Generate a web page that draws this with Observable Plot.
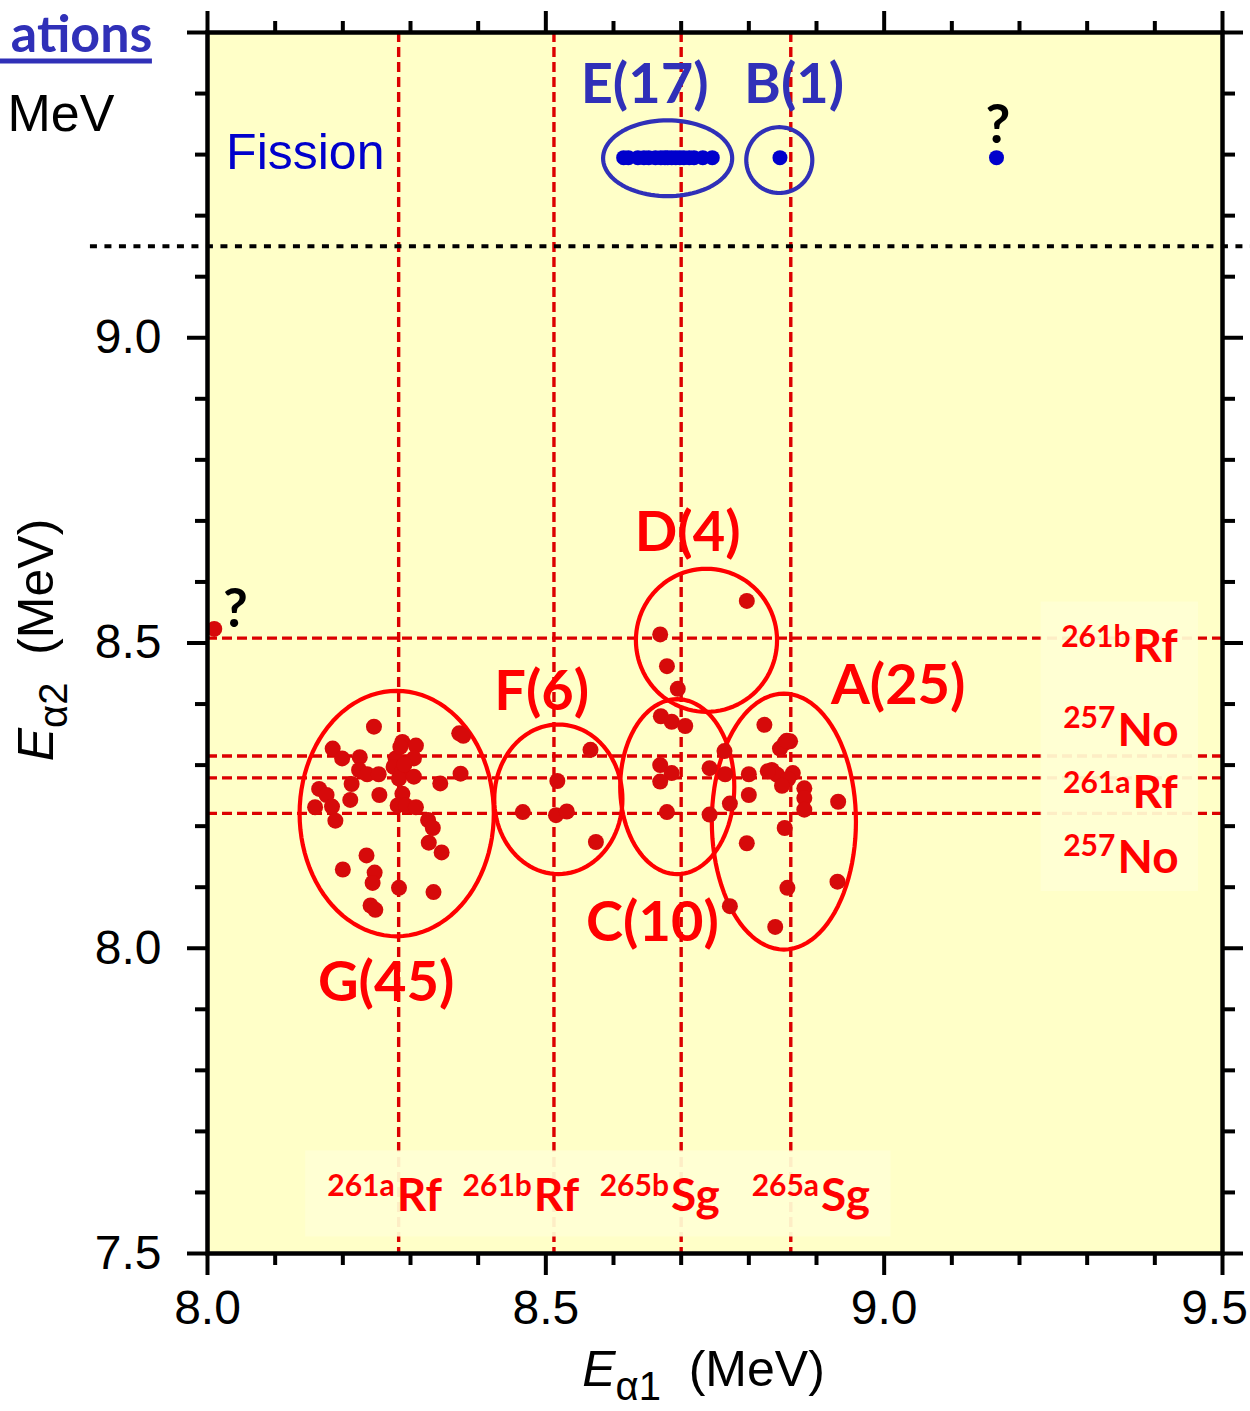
<!DOCTYPE html>
<html>
<head>
<meta charset="utf-8">
<script src="https://cdn.jsdelivr.net/npm/d3@7"></script>
<script src="https://cdn.jsdelivr.net/npm/@observablehq/plot@0.6"></script>
<style>
  body { margin: 0; background: #ffffff; }
  #chart svg { display: block; }
</style>
</head>
<body>
<div id="chart"></div>
<script>
// ---------------- DATA ----------------
// Alpha-alpha correlations: E_alpha1 (x) vs E_alpha2 (y), MeV
const groupG = [[8.246,8.363],[8.372,8.352],[8.378,8.348],[8.185,8.327],[8.199,8.311],[8.225,8.313],
  [8.288,8.338],[8.308,8.332],[8.305,8.311],[8.278,8.311],[8.275,8.297],[8.224,8.292],[8.236,8.285],
  [8.253,8.285],[8.288,8.290],[8.283,8.278],[8.305,8.281],[8.374,8.286],[8.344,8.270],[8.213,8.269],
  [8.165,8.261],[8.176,8.251],[8.254,8.251],[8.288,8.253],[8.211,8.243],[8.184,8.232],[8.159,8.231],
  [8.281,8.234],[8.293,8.234],[8.308,8.231],[8.189,8.209],[8.326,8.210],[8.333,8.197],[8.327,8.173],
  [8.346,8.157],[8.235,8.152],[8.200,8.129],[8.247,8.124],[8.244,8.107],[8.283,8.099],[8.334,8.092],
  [8.241,8.070],[8.248,8.063],[8.285,8.330],[8.291,8.301]];
const groupF = [[8.566,8.325],[8.517,8.274],[8.466,8.223],[8.515,8.218],[8.531,8.224],[8.574,8.174]];
const groupD = [[8.797,8.569],[8.669,8.514],[8.679,8.462],[8.695,8.425]];
const groupC = [[8.670,8.380],[8.686,8.371],[8.706,8.364],[8.669,8.300],[8.686,8.287],[8.669,8.273],
  [8.742,8.295],[8.679,8.223],[8.742,8.219],[8.764,8.323]];
const groupA = [[8.823,8.366],[8.861,8.339],[8.853,8.336],[8.846,8.327],[8.856,8.340],[8.765,8.285],
  [8.800,8.285],[8.834,8.292],[8.842,8.284],[8.828,8.290],[8.865,8.287],[8.858,8.277],[8.849,8.266],
  [8.882,8.262],[8.882,8.246],[8.882,8.227],[8.932,8.240],[8.800,8.251],[8.772,8.237],[8.853,8.197],
  [8.797,8.172],[8.931,8.109],[8.857,8.099],[8.772,8.069],[8.839,8.035]];
const groupUnknownAlpha = [[8.010,8.523]];

// alpha -> fission correlations (plotted at the "Fission" row)
const fissionRow = 9.295;
const groupE_x = [8.615,8.622,8.636,8.645,8.652,8.662,8.670,8.676,8.680,8.686,8.692,8.698,8.704,8.712,8.719,8.732,8.746];
const groupB_x = [8.846];
const unknownFission_x = [9.166];
const fissionCut = 9.15;

// reference energies (dashed lines)
const alpha1Lines = [8.2825, 8.512, 8.700, 8.862];          // 261aRf, 261bRf, 265bSg, 265aSg
const alpha2Lines = [8.508, 8.315, 8.279, 8.221];          // 261bRf, 257No, 261aRf, 257No

// cluster ellipses: name, centre x, centre y, half-width, half-height (MeV)
const ellName = ["E","B","G","F","D","C","A"];
const ellCx   = [8.680, 8.845, 8.2796, 8.5185, 8.7374, 8.6942, 8.8518];
const ellCy   = [9.294, 9.291, 8.2206, 8.244, 8.5044, 8.2647, 8.2075];
const ellRx   = [0.0954, 0.0488, 0.1435, 0.0947, 0.1043, 0.0843, 0.1065];
const ellRy   = [0.0621, 0.0539, 0.201, 0.1225, 0.1172, 0.1433, 0.2096];

// cluster labels
const clusterLabel = ["E(17)","B(1)","D(4)","F(6)","A(25)","C(10)","G(45)"];
const clusterLabelX = [8.646, 8.867, 8.7096, 8.4938, 9.0207, 8.6575, 8.264];
const clusterLabelY = [9.384, 9.384, 8.6515, 8.3904, 8.4008, 8.0114, 7.9134];
const clusterFission = [true, true, false, false, false, false, false];

// question marks
const qX = [9.168, 8.0414];
const qY = [9.3186, 8.526];

// nuclide labels (mass number + isomer superscript, element)
const nucRightSup  = ["261b","257","261a","257"];
const nucRightBase = ["Rf","No","Rf","No"];
const nucRightX    = [9.3654, 9.3432, 9.3654, 9.3432];
const nucRightBaseY = [8.469, 8.3317, 8.2293, 8.123];
const nucRightSupY  = [8.4935, 8.360, 8.2538, 8.1503];
const nucBottomSup  = ["261a","261b","265b","265a"];
const nucBottomBase = ["Rf","Rf","Sg","Sg"];
const nucBottomX    = [8.2781, 8.4808, 8.6834, 8.9053];
const nucBottomBaseY = 7.570;
const nucBottomSupY  = 7.594;

// label backdrop boxes (x1, x2, y1, y2)
const boxes = [
  {x1: 9.232, x2: 9.4645, y1: 8.093, y2: 8.567},
  {x1: 8.145, x2: 9.010, y1: 7.527, y2: 7.668}
];

// ticks
const xMajor = [8.0, 8.5, 9.0, 9.5];
const xLabelled = [8.0, 8.5, 9.0];
const xLastLabel = [9.5];
const xMinor = [8.1, 8.2, 8.3, 8.4, 8.6, 8.7, 8.8, 8.9, 9.1, 9.2, 9.3, 9.4];
const yLabelled = [7.5, 8.0, 8.5, 9.0];
const yMajor = [7.5, 8.0, 8.5, 9.0, 9.5];
const yMinor = [7.6, 7.7, 7.8, 7.9, 8.1, 8.2, 8.3, 8.4, 8.6, 8.7, 8.8, 8.9, 9.1, 9.2, 9.3, 9.4];

// free texts
const headingText = "ations";
const unitText = "MeV";
const fissionText = "Fission";
const xTitle = "Eα1 (MeV)";
const yTitle = "Eα2 (MeV)";

// ---------------- BUILD ----------------
const toPts = (arr) => arr.map(([x, y]) => ({x, y}));
const redPts = toPts([...groupG, ...groupF, ...groupD, ...groupC, ...groupA, ...groupUnknownAlpha]);
const bluePts = [...groupE_x, ...groupB_x, ...unknownFission_x].map(x => ({x, y: fissionRow}));

const ellData = [];
ellName.forEach((name, i) => {
  for (let k = 0; k <= 96; k++) {
    const t = (k / 96) * 2 * Math.PI;
    ellData.push({name, fission: name === "E" || name === "B",
      x: ellCx[i] + ellRx[i] * Math.cos(t), y: ellCy[i] + ellRy[i] * Math.sin(t)});
  }
});

const labels = clusterLabel.map((t, i) => ({t, x: clusterLabelX[i], y: clusterLabelY[i], f: clusterFission[i]}));
const qs = qX.map((x, i) => ({x, y: qY[i]}));
const nucRight = nucRightSup.map((s, i) => ({s, b: nucRightBase[i], x: nucRightX[i], yb: nucRightBaseY[i], ys: nucRightSupY[i]}));
const nucBottom = nucBottomSup.map((s, i) => ({s, b: nucBottomBase[i], x: nucBottomX[i], yb: nucBottomBaseY, ys: nucBottomSupY}));
const nucAll = [...nucRight, ...nucBottom];

const RED_LINE = "#DC0000", RED = "#FF0000", RED_DOT = "#D60A0A";
const BLUE_TXT = "#3030B8", BLUE_DOT = "#0000CC";
const LABEL_FONT = "Lato, 'Open Sans', sans-serif";
const AX_FONT = "'Liberation Sans', Arial, sans-serif";

const chart = Plot.plot({
  width: 1250,
  height: 1411,
  marginLeft: 207,
  marginRight: 28,
  marginTop: 32,
  marginBottom: 158,
  x: {domain: [8, 9.5]},
  y: {domain: [7.5, 9.5]},
  style: {fontFamily: AX_FONT, background: "white", color: "black"},
  marks: [
    Plot.frame({fill: "#FFFFC8", stroke: null}),
    // dashed reference lines
    Plot.ruleX(alpha1Lines, {stroke: RED_LINE, strokeWidth: 3.4, strokeDasharray: "10,5"}),
    Plot.ruleY(alpha2Lines, {stroke: RED_LINE, strokeWidth: 3.4, strokeDasharray: "10,5"}),
    // label backdrops
    Plot.rect(boxes, {x1: "x1", x2: "x2", y1: "y1", y2: "y2", fill: "#FFFFD4", fillOpacity: 0.93}),
    // fission / alpha separator
    Plot.ruleY([fissionCut], {x1: () => 7.827, x2: () => 9.6, stroke: "black", strokeWidth: 4, strokeDasharray: "7,7.5"}),
    // heading underline
    Plot.ruleY([9.4534], {x1: () => 7.69, x2: () => 7.9186, stroke: BLUE_TXT, strokeWidth: 5}),
    // ellipses
    Plot.line(ellData, {x: "x", y: "y", z: "name", stroke: d => d.fission ? BLUE_TXT : RED, strokeWidth: 4.2, curve: "linear"}),
    // events
    Plot.dot(redPts, {x: "x", y: "y", r: 8, fill: RED_DOT, stroke: null}),
    Plot.dot(bluePts, {x: "x", y: "y", r: 7.5, fill: BLUE_DOT, stroke: null}),
    // cluster labels
    Plot.text(labels, {x: "x", y: "y", text: "t", fill: d => d.f ? BLUE_TXT : RED, fontSize: 56, fontWeight: "bold",
      fontFamily: LABEL_FONT, lineAnchor: "bottom", textAnchor: "middle"}),
    Plot.text(qs, {x: "x", y: "y", text: () => "?", fill: "black", fontSize: 54, fontWeight: "bold",
      fontFamily: LABEL_FONT, lineAnchor: "bottom", textAnchor: "middle"}),
    // nuclide labels
    Plot.text(nucAll, {x: "x", y: "ys", text: "s", fill: RED, fontSize: 30, fontWeight: "bold",
      fontFamily: LABEL_FONT, lineAnchor: "bottom", textAnchor: "end", dx: -1}),
    Plot.text(nucAll, {x: "x", y: "yb", text: "b", fill: RED, fontSize: 46, fontWeight: "bold",
      fontFamily: LABEL_FONT, lineAnchor: "bottom", textAnchor: "start", dx: 1}),
    // free texts
    Plot.text([headingText], {x: () => 7.9186, y: () => 9.4673, text: d => d, fill: BLUE_TXT, fontSize: 52,
      fontWeight: "bold", fontFamily: LABEL_FONT, textAnchor: "end", lineAnchor: "bottom"}),
    Plot.text([unitText], {x: () => 7.7045, y: () => 9.3382, text: d => d, fill: "black", fontSize: 52,
      fontFamily: AX_FONT, textAnchor: "start", lineAnchor: "bottom"}),
    Plot.text([fissionText], {x: () => 8.0275, y: () => 9.2767, text: d => d, fill: BLUE_DOT, fontSize: 50,
      fontFamily: AX_FONT, textAnchor: "start", lineAnchor: "bottom"}),
    // axis titles (rich-formatted after render)
    Plot.text([xTitle], {x: () => 8.733, y: () => 7.2825, text: d => d, fill: "black", fontSize: 50,
      fontFamily: AX_FONT, textAnchor: "middle", lineAnchor: "bottom"}),
    Plot.text([yTitle], {x: () => 7.7722, y: () => 8.5049, text: d => d, fill: "black", fontSize: 50,
      fontFamily: AX_FONT, textAnchor: "middle", lineAnchor: "bottom", rotate: -90}),
    // axes: bottom
    Plot.axisX(xMajor, {anchor: "bottom", tickSize: 22, strokeWidth: 4, fill: "none", label: null}),
    Plot.axisX(xLabelled, {anchor: "bottom", tickSize: 0, tickPadding: 36, tickFormat: d3.format(".1f"),
      fontSize: 48, fontFamily: AX_FONT, label: null}),
    Plot.axisX(xLastLabel, {anchor: "bottom", tickSize: 0, tickPadding: 36, tickFormat: d3.format(".1f"),
      fontSize: 48, fontFamily: AX_FONT, label: null, dx: -8}),
    Plot.axisX(xMinor, {anchor: "bottom", tickSize: 12, strokeWidth: 4, fill: "none", label: null}),
    // top
    Plot.axisX(xMajor, {anchor: "top", tickSize: 22, strokeWidth: 4, fill: "none", label: null}),
    Plot.axisX(xMinor, {anchor: "top", tickSize: 12, strokeWidth: 4, fill: "none", label: null}),
    // left
    Plot.axisY(yLabelled, {anchor: "left", tickSize: 20, tickPadding: 26, tickFormat: d3.format(".1f"),
      fontSize: 48, fontFamily: AX_FONT, strokeWidth: 4, label: null}),
    Plot.axisY([9.5], {anchor: "left", tickSize: 20, strokeWidth: 4, fill: "none", label: null}),
    Plot.axisY(yMinor, {anchor: "left", tickSize: 12, strokeWidth: 4, fill: "none", label: null}),
    // right
    Plot.axisY(yMajor, {anchor: "right", tickSize: 20, strokeWidth: 4, fill: "none", label: null}),
    Plot.axisY(yMinor, {anchor: "right", tickSize: 12, strokeWidth: 4, fill: "none", label: null}),
    Plot.frame({stroke: "black", strokeWidth: 4.5})
  ]
});

// rich formatting of axis titles: italic E with Greek subscript
d3.select(chart).selectAll("text").each(function () {
  const t = this.textContent;
  if (t === xTitle || t === yTitle) {
    const sub = t === xTitle ? "α1" : "α2";
    const el = d3.select(this);
    el.text(null);
    el.append("tspan").attr("font-style", "italic").text("E");
    el.append("tspan").attr("font-size", "0.8em").attr("dy", "14").text(sub);
    el.append("tspan").attr("dy", "-14").text("\u00a0\u00a0(MeV)");
  }
});

document.getElementById("chart").appendChild(chart);
</script>
</body>
</html>
